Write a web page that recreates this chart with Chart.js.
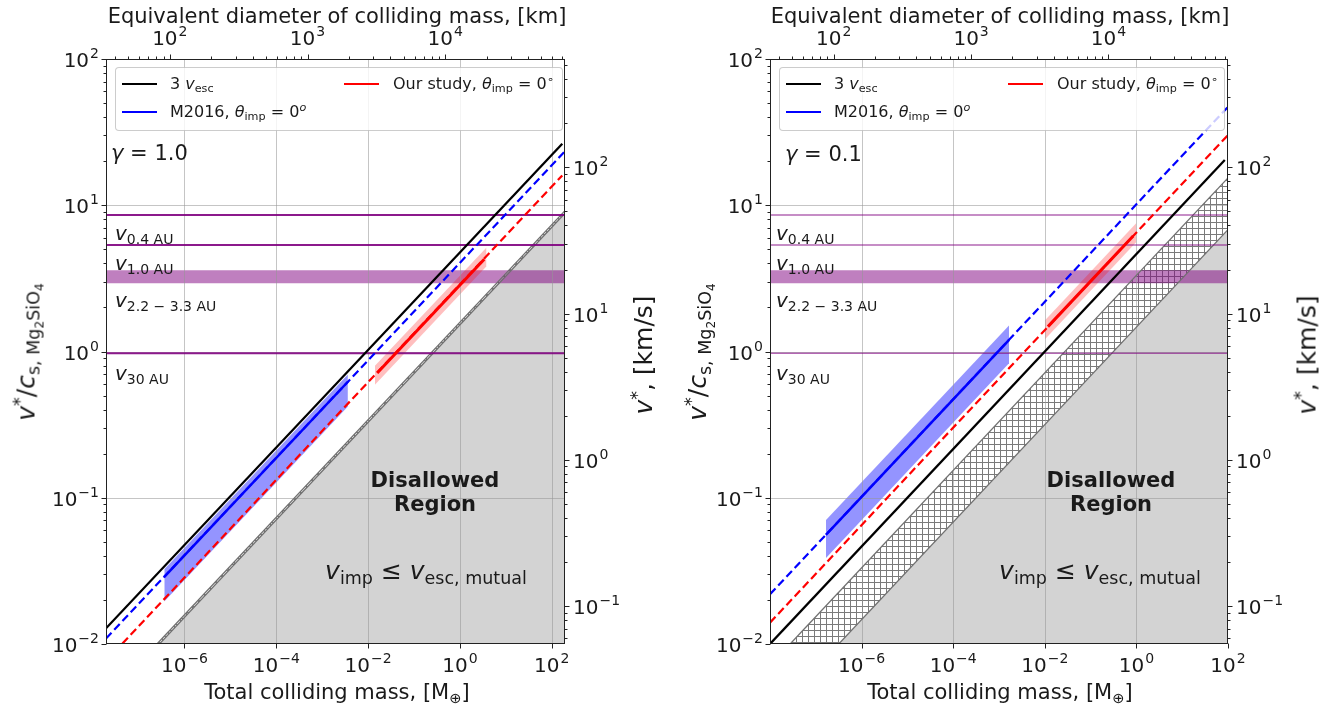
<!DOCTYPE html>
<html>
<head>
<meta charset="utf-8">
<script src="https://cdn.jsdelivr.net/npm/chart.js@4.4.0/dist/chart.umd.min.js"></script>
<style>
  body { margin: 0; background: #fff; width: 1341px; height: 709px; overflow: hidden; position: relative;
         font-family: "DejaVu Sans", sans-serif; color: #1a1a1a; }
  canvas { position: absolute; top: 0; }
  .lab { position: absolute; white-space: nowrap; line-height: 1; transform: translate(-50%, -50%); z-index: 2; }
  .lft { transform: translate(0, -50%); }
  .rot { transform: translate(-50%, -50%) rotate(-90deg); }
  .s { font-size: 70%; position: relative; top: 0.3em; }
  .u { font-size: 70%; position: relative; top: -0.5em; }
  .leg { position: absolute; top: 67px; height: 62px; border: 1px solid rgba(0,0,0,0.2); border-radius: 4px;
         background: rgba(255,255,255,0.8); z-index: 3; font-size: 16px; }
  .leg .ln { position: absolute; width: 35px; height: 0; }
  .leg .tx { position: absolute; white-space: nowrap; line-height: 1; transform: translate(0, -50%); }
  .xt { font-size: 21px; }
  .yt { font-size: 25px; }
  .gam { font-size: 21px; }
  .orb { font-size: 20px; }
  .dis { font-size: 21px; font-weight: bold; text-align: center; line-height: 1.12; }
  .vimp { font-size: 25px; }
</style>
</head>
<body>
<canvas id="cL" width="670" height="709" style="left:0"></canvas>
<canvas id="cR" width="671" height="709" style="left:670px"></canvas>

<!-- axis titles -->
<div class="lab xt" style="left:337px;top:16px">Equivalent diameter of colliding mass, [km]</div>
<div class="lab xt" style="left:1000px;top:16px">Equivalent diameter of colliding mass, [km]</div>
<div class="lab xt" style="left:337px;top:692px">Total colliding mass, [M<span class="s">⊕</span>]</div>
<div class="lab xt" style="left:1000px;top:692px">Total colliding mass, [M<span class="s">⊕</span>]</div>
<div class="lab yt rot" style="left:26px;top:352px"><i>v</i><span class="u">*</span>/<i>c</i><span class="s">s, Mg<span class="s">2</span>SiO<span class="s">4</span></span></div>
<div class="lab yt rot" style="left:697px;top:352px"><i>v</i><span class="u">*</span>/<i>c</i><span class="s">s, Mg<span class="s">2</span>SiO<span class="s">4</span></span></div>
<div class="lab yt rot" style="left:643px;top:355px"><i>v</i><span class="u">*</span>, [km/s]</div>
<div class="lab yt rot" style="left:1307px;top:355px"><i>v</i><span class="u">*</span>, [km/s]</div>

<!-- legends -->
<div class="leg" style="left:115px;width:446px">
  <div class="ln" style="left:6px;top:15px;border-top:2px solid #000"></div>
  <div class="tx" style="left:54px;top:16px">3 <i>v</i><span class="s">esc</span></div>
  <div class="ln" style="left:6px;top:43px;border-top:2px solid #00f"></div>
  <div class="tx" style="left:54px;top:44px">M2016, <i>θ</i><span class="s">imp</span> = 0<span class="u"><i>o</i></span></div>
  <div class="ln" style="left:228px;top:15px;border-top:2.5px solid #f00"></div>
  <div class="tx" style="left:277px;top:16px">Our study, <i>θ</i><span class="s">imp</span> = 0<span class="u">∘</span></div>
</div>
<div class="leg" style="left:779px;width:444px">
  <div class="ln" style="left:6px;top:15px;border-top:2px solid #000"></div>
  <div class="tx" style="left:54px;top:16px">3 <i>v</i><span class="s">esc</span></div>
  <div class="ln" style="left:6px;top:43px;border-top:2px solid #00f"></div>
  <div class="tx" style="left:54px;top:44px">M2016, <i>θ</i><span class="s">imp</span> = 0<span class="u"><i>o</i></span></div>
  <div class="ln" style="left:228px;top:15px;border-top:2.5px solid #f00"></div>
  <div class="tx" style="left:277px;top:16px">Our study, <i>θ</i><span class="s">imp</span> = 0<span class="u">∘</span></div>
</div>

<!-- annotations, left panel -->
<div class="lab lft gam" style="left:111px;top:153px"><i>γ</i> = 1.0</div>
<div class="lab lft orb" style="left:115px;top:233px"><i>v</i><span class="s">0.4 AU</span></div>
<div class="lab lft orb" style="left:115px;top:263px"><i>v</i><span class="s">1.0 AU</span></div>
<div class="lab lft orb" style="left:115px;top:300px"><i>v</i><span class="s">2.2 − 3.3 AU</span></div>
<div class="lab lft orb" style="left:115px;top:373px"><i>v</i><span class="s">30 AU</span></div>
<div class="lab dis" style="left:435px;top:493px">Disallowed<br>Region</div>
<div class="lab vimp" style="left:426px;top:570px"><i>v</i><span class="s">imp</span> ≤ <i>v</i><span class="s">esc, mutual</span></div>

<!-- annotations, right panel -->
<div class="lab lft gam" style="left:785px;top:154px"><i>γ</i> = 0.1</div>
<div class="lab lft orb" style="left:776px;top:233px"><i>v</i><span class="s">0.4 AU</span></div>
<div class="lab lft orb" style="left:776px;top:263px"><i>v</i><span class="s">1.0 AU</span></div>
<div class="lab lft orb" style="left:776px;top:300px"><i>v</i><span class="s">2.2 − 3.3 AU</span></div>
<div class="lab lft orb" style="left:776px;top:373px"><i>v</i><span class="s">30 AU</span></div>
<div class="lab dis" style="left:1111px;top:493px">Disallowed<br>Region</div>
<div class="lab vimp" style="left:1100px;top:570px"><i>v</i><span class="s">imp</span> ≤ <i>v</i><span class="s">esc, mutual</span></div>

<script>
// axis limits
const massRangeL = [1.95e-8, 1.95e2];
const massRangeR = [1e-8, 1e2];
const ratioRange = [1e-2, 1e2];
const diamRange = [34.4, 74100];   // top axis (same on both panels)
const kmsRange = [0.055, 550];     // right axis

// tick labels
const massTicks = [1e-6, 1e-4, 1e-2, 1, 1e2];
const ratioTicks = [1e-2, 1e-1, 1, 10, 100];
const diamTicks = [1e2, 1e3, 1e4];
const kmsTicks = [1e-1, 1, 10, 100];

// orbital speed levels, v*/c_s
const orbLines = [8.57, 5.35, 0.972];   // 0.4 AU, 1.0 AU, 30 AU
const orbBand = [2.93, 3.60];            // 2.2 - 3.3 AU

// gamma = 1.0 (left)
const escMassL = [1.95e-8, 170];       const escVelL = [0.0128, 26.3];
const m16MassL = [1.95e-8, 195];       const m16VelL = [0.0109, 23.4];
const m16BandMassL = [3.63e-7, 3.63e-3];
const m16MidL = [0.0288, 0.621];       const m16HiL = [0.0324, 0.697];   const m16LoL = [0.0195, 0.420];
const ourMassL = [1.95e-8, 170];       const ourVelL = [0.00764, 16.0];
const ourSolidMassL = [0.0158, 3.39];  const ourSolidVelL = [0.713, 4.27];
const ourBandMassL = [0.0141, 3.80];   const ourHiL = [0.798, 5.15];     const ourLoL = [0.592, 3.82];
const grayMassL = [2.85e-7, 1.95e2];   const grayVelL = [0.01, 8.81];
const hatchMassL = [2.51e-7, 1.95e2];  const hatchHiL = [0.01, 9.19];    const hatchLoL = [0.00959, 8.81];

// gamma = 0.1 (right)
const escMassR = [1e-8, 85.1];         const escVelR = [0.01, 20.4];
const m16MassR = [1e-8, 1e2];          const m16VelR = [0.0219, 47.1];
const m16BandMassR = [1.66e-7, 1.66e-3];
const m16MidR = [0.0558, 1.20];        const m16HiR = [0.0703, 1.51];    const m16LoR = [0.0386, 0.832];
const ourMassR = [1e-8, 1e2];          const ourVelR = [0.0140, 30.2];
const ourSolidMassR = [0.0117, 0.851]; const ourSolidVelR = [1.48, 6.17];
const ourBandMassR = [0.01, 1.0];      const ourHiR = [1.63, 7.55];      const ourLoR = [1.21, 5.60];
const grayMassR = [3.16e-7, 1e2];      const grayVelR = [0.01, 6.81];
const hatchMassR = [2.75e-8, 1e2];     const hatchHiR = [0.01, 15.4];    const hatchLoR = [0.00443, 6.81];

const NONE = 'rgba(0,0,0,0)';
const pts = (xs, ys) => xs.map((x, i) => ({x: x, y: ys[i]}));

// cross hatch pattern
const hc = document.createElement('canvas');
hc.width = hc.height = 6;
const hx = hc.getContext('2d');
hx.fillStyle = '#7a7a7a';
hx.fillRect(0, 0, 6, 1);
hx.fillRect(0, 0, 1, 6);
const hatch = hx.createPattern(hc, 'repeat');

function minors(lo, hi) {
  const out = [];
  for (let e = Math.floor(Math.log10(lo)); e <= Math.ceil(Math.log10(hi)); e++) {
    for (let k = 2; k < 10; k++) {
      const v = k * Math.pow(10, e);
      if (v > lo && v < hi) out.push(v);
    }
  }
  return out;
}

function drawPow(ctx, v, x, y, align) {
  const e = Math.round(Math.log10(v));
  const ex = (e < 0 ? '\u2212' : '') + Math.abs(e);
  ctx.font = '20px "DejaVu Sans"';
  const w1 = ctx.measureText('10').width;
  ctx.font = '14px "DejaVu Sans"';
  const w2 = ctx.measureText(ex).width;
  const w = w1 + w2 + 1;
  let x0 = x - w / 2;
  if (align === 'right') x0 = x - w;
  if (align === 'left') x0 = x;
  ctx.fillStyle = '#1a1a1a';
  ctx.textAlign = 'left';
  ctx.textBaseline = 'alphabetic';
  ctx.font = '20px "DejaVu Sans"';
  ctx.fillText('10', x0, y);
  ctx.font = '14px "DejaVu Sans"';
  ctx.fillText(ex, x0 + w1 + 1, y - 9);
}

const axesPlugin = {
  id: 'mplAxes',
  beforeDatasetsDraw(chart) {
    // grid sits on top of the fills, under the lines
    const {ctx, chartArea: a, scales} = chart;
    ctx.save();
    ctx.strokeStyle = 'rgba(150,150,150,0.55)';
    ctx.lineWidth = 1;
    ctx.beginPath();
    massTicks.forEach(v => {
      const x = Math.round(scales.x.getPixelForValue(v)) + 0.5;
      if (x > a.left + 1 && x < a.right - 1) { ctx.moveTo(x, a.top); ctx.lineTo(x, a.bottom); }
    });
    ratioTicks.forEach(v => {
      const y = Math.round(scales.y.getPixelForValue(v)) + 0.5;
      if (y > a.top + 1 && y < a.bottom - 1) { ctx.moveTo(a.left, y); ctx.lineTo(a.right, y); }
    });
    ctx.stroke();
    ctx.restore();
  },
  afterDatasetsDraw(chart) {
    const {ctx, chartArea: a, scales} = chart;
    const L = Math.round(a.left) + 0.5, R = Math.round(a.right) - 0.5;
    const T = Math.round(a.top) + 0.5, B = Math.round(a.bottom) - 0.5;
    ctx.save();
    ctx.strokeStyle = '#222';
    ctx.lineWidth = 1;
    ctx.strokeRect(L, T, R - L, B - T);
    ctx.beginPath();
    const tick = (v, sc, side, len) => {
      const p = Math.round(sc.getPixelForValue(v)) + 0.5;
      if (side === 'b') { ctx.moveTo(p, B); ctx.lineTo(p, B + len); }
      if (side === 't') { ctx.moveTo(p, T); ctx.lineTo(p, T - len); }
      if (side === 'l') { ctx.moveTo(L, p); ctx.lineTo(L - len, p); }
      if (side === 'r') { ctx.moveTo(R, p); ctx.lineTo(R + len, p); }
    };
    massTicks.forEach(v => tick(v, scales.x, 'b', 5));
    ratioTicks.forEach(v => tick(v, scales.y, 'l', 5));
    minors(ratioRange[0], ratioRange[1]).forEach(v => tick(v, scales.y, 'l', 3));
    diamTicks.forEach(v => tick(v, scales.xTop, 't', 5));
    minors(diamRange[0], diamRange[1]).forEach(v => tick(v, scales.xTop, 't', 3));
    kmsTicks.forEach(v => tick(v, scales.yRight, 'r', 5));
    minors(kmsRange[0], kmsRange[1]).forEach(v => tick(v, scales.yRight, 'r', 3));
    ctx.stroke();

    massTicks.forEach(v => drawPow(ctx, v, scales.x.getPixelForValue(v), a.bottom + 28, 'center'));
    ratioTicks.forEach(v => drawPow(ctx, v, a.left - 7, scales.y.getPixelForValue(v) + 8, 'right'));
    diamTicks.forEach(v => drawPow(ctx, v, scales.xTop.getPixelForValue(v), a.top - 14, 'center'));
    kmsTicks.forEach(v => drawPow(ctx, v, a.right + 8, scales.yRight.getPixelForValue(v) + 8, 'left'));
    ctx.restore();
  }
};

function makeChart(id, p) {
  const flat = v => pts(p.mass, [v, v]);
  const datasets = [
    {data: pts(p.ourSolidMass, p.ourSolidVel), borderColor: '#f00', borderWidth: 3},
    {data: pts(p.m16BandMass, p.m16Mid), borderColor: '#00f', borderWidth: 2.5},
    {data: pts(p.ourMass, p.ourVel), borderColor: '#f00', borderWidth: 2.2, borderDash: [8, 4]},
    {data: pts(p.m16Mass, p.m16Vel), borderColor: '#00f', borderWidth: 2.2, borderDash: [8, 4]},
    {data: pts(p.escMass, p.escVel), borderColor: '#000', borderWidth: 2.3},
    {data: pts(p.ourBandMass, p.ourHi), borderColor: NONE, fill: '+1', backgroundColor: 'rgba(255,0,0,0.25)'},
    {data: pts(p.ourBandMass, p.ourLo), borderColor: NONE},
    {data: pts(p.m16BandMass, p.m16Hi), borderColor: NONE, fill: '+1', backgroundColor: 'rgba(0,0,255,0.42)'},
    {data: pts(p.m16BandMass, p.m16Lo), borderColor: NONE},
    ...orbLines.map(v => ({data: flat(v), borderColor: p.purple, borderWidth: p.purpleW})),
    {data: flat(orbBand[1]), borderColor: NONE, fill: '+1', backgroundColor: 'rgba(128,0,128,0.5)'},
    {data: flat(orbBand[0]), borderColor: NONE},
    {data: pts(p.hatchMass, p.hatchHi), borderColor: '#707070', borderWidth: 1.3, fill: '+1', backgroundColor: hatch},
    {data: pts(p.hatchMass, p.hatchLo), borderColor: '#707070', borderWidth: 1.3},
    {data: pts(p.grayMass, p.grayVel), borderColor: NONE, fill: 'start', backgroundColor: '#d3d3d3'}
  ];
  return new Chart(document.getElementById(id), {
    type: 'line',
    data: {datasets: datasets},
    options: {
      responsive: false,
      animation: false,
      devicePixelRatio: 1,
      layout: {padding: p.pad},
      elements: {point: {radius: 0}, line: {tension: 0, fill: false}},
      plugins: {
        legend: {display: false},
        tooltip: {enabled: false},
        filler: {drawTime: 'beforeDatasetsDraw', propagate: false}
      },
      scales: {
        x: {type: 'logarithmic', min: p.mass[0], max: p.mass[1], display: false},
        y: {type: 'logarithmic', min: ratioRange[0], max: ratioRange[1], display: false},
        xTop: {type: 'logarithmic', axis: 'x', position: 'top', min: diamRange[0], max: diamRange[1], display: false},
        yRight: {type: 'logarithmic', axis: 'y', position: 'right', min: kmsRange[0], max: kmsRange[1], display: false}
      }
    },
    plugins: [axesPlugin]
  });
}

makeChart('cL', {
  pad: {left: 106, right: 105, top: 59, bottom: 65},
  mass: massRangeL, purple: 'rgba(128,0,128,0.9)', purpleW: 2,
  escMass: escMassL, escVel: escVelL,
  m16Mass: m16MassL, m16Vel: m16VelL,
  m16BandMass: m16BandMassL, m16Mid: m16MidL, m16Hi: m16HiL, m16Lo: m16LoL,
  ourMass: ourMassL, ourVel: ourVelL,
  ourSolidMass: ourSolidMassL, ourSolidVel: ourSolidVelL,
  ourBandMass: ourBandMassL, ourHi: ourHiL, ourLo: ourLoL,
  grayMass: grayMassL, grayVel: grayVelL,
  hatchMass: hatchMassL, hatchHi: hatchHiL, hatchLo: hatchLoL
});

makeChart('cR', {
  pad: {left: 100, right: 113, top: 59, bottom: 65},
  mass: massRangeR, purple: 'rgba(128,0,128,0.6)', purpleW: 1.6,
  escMass: escMassR, escVel: escVelR,
  m16Mass: m16MassR, m16Vel: m16VelR,
  m16BandMass: m16BandMassR, m16Mid: m16MidR, m16Hi: m16HiR, m16Lo: m16LoR,
  ourMass: ourMassR, ourVel: ourVelR,
  ourSolidMass: ourSolidMassR, ourSolidVel: ourSolidVelR,
  ourBandMass: ourBandMassR, ourHi: ourHiR, ourLo: ourLoR,
  grayMass: grayMassR, grayVel: grayVelR,
  hatchMass: hatchMassR, hatchHi: hatchHiR, hatchLo: hatchLoR
});
</script>
</body>
</html>
